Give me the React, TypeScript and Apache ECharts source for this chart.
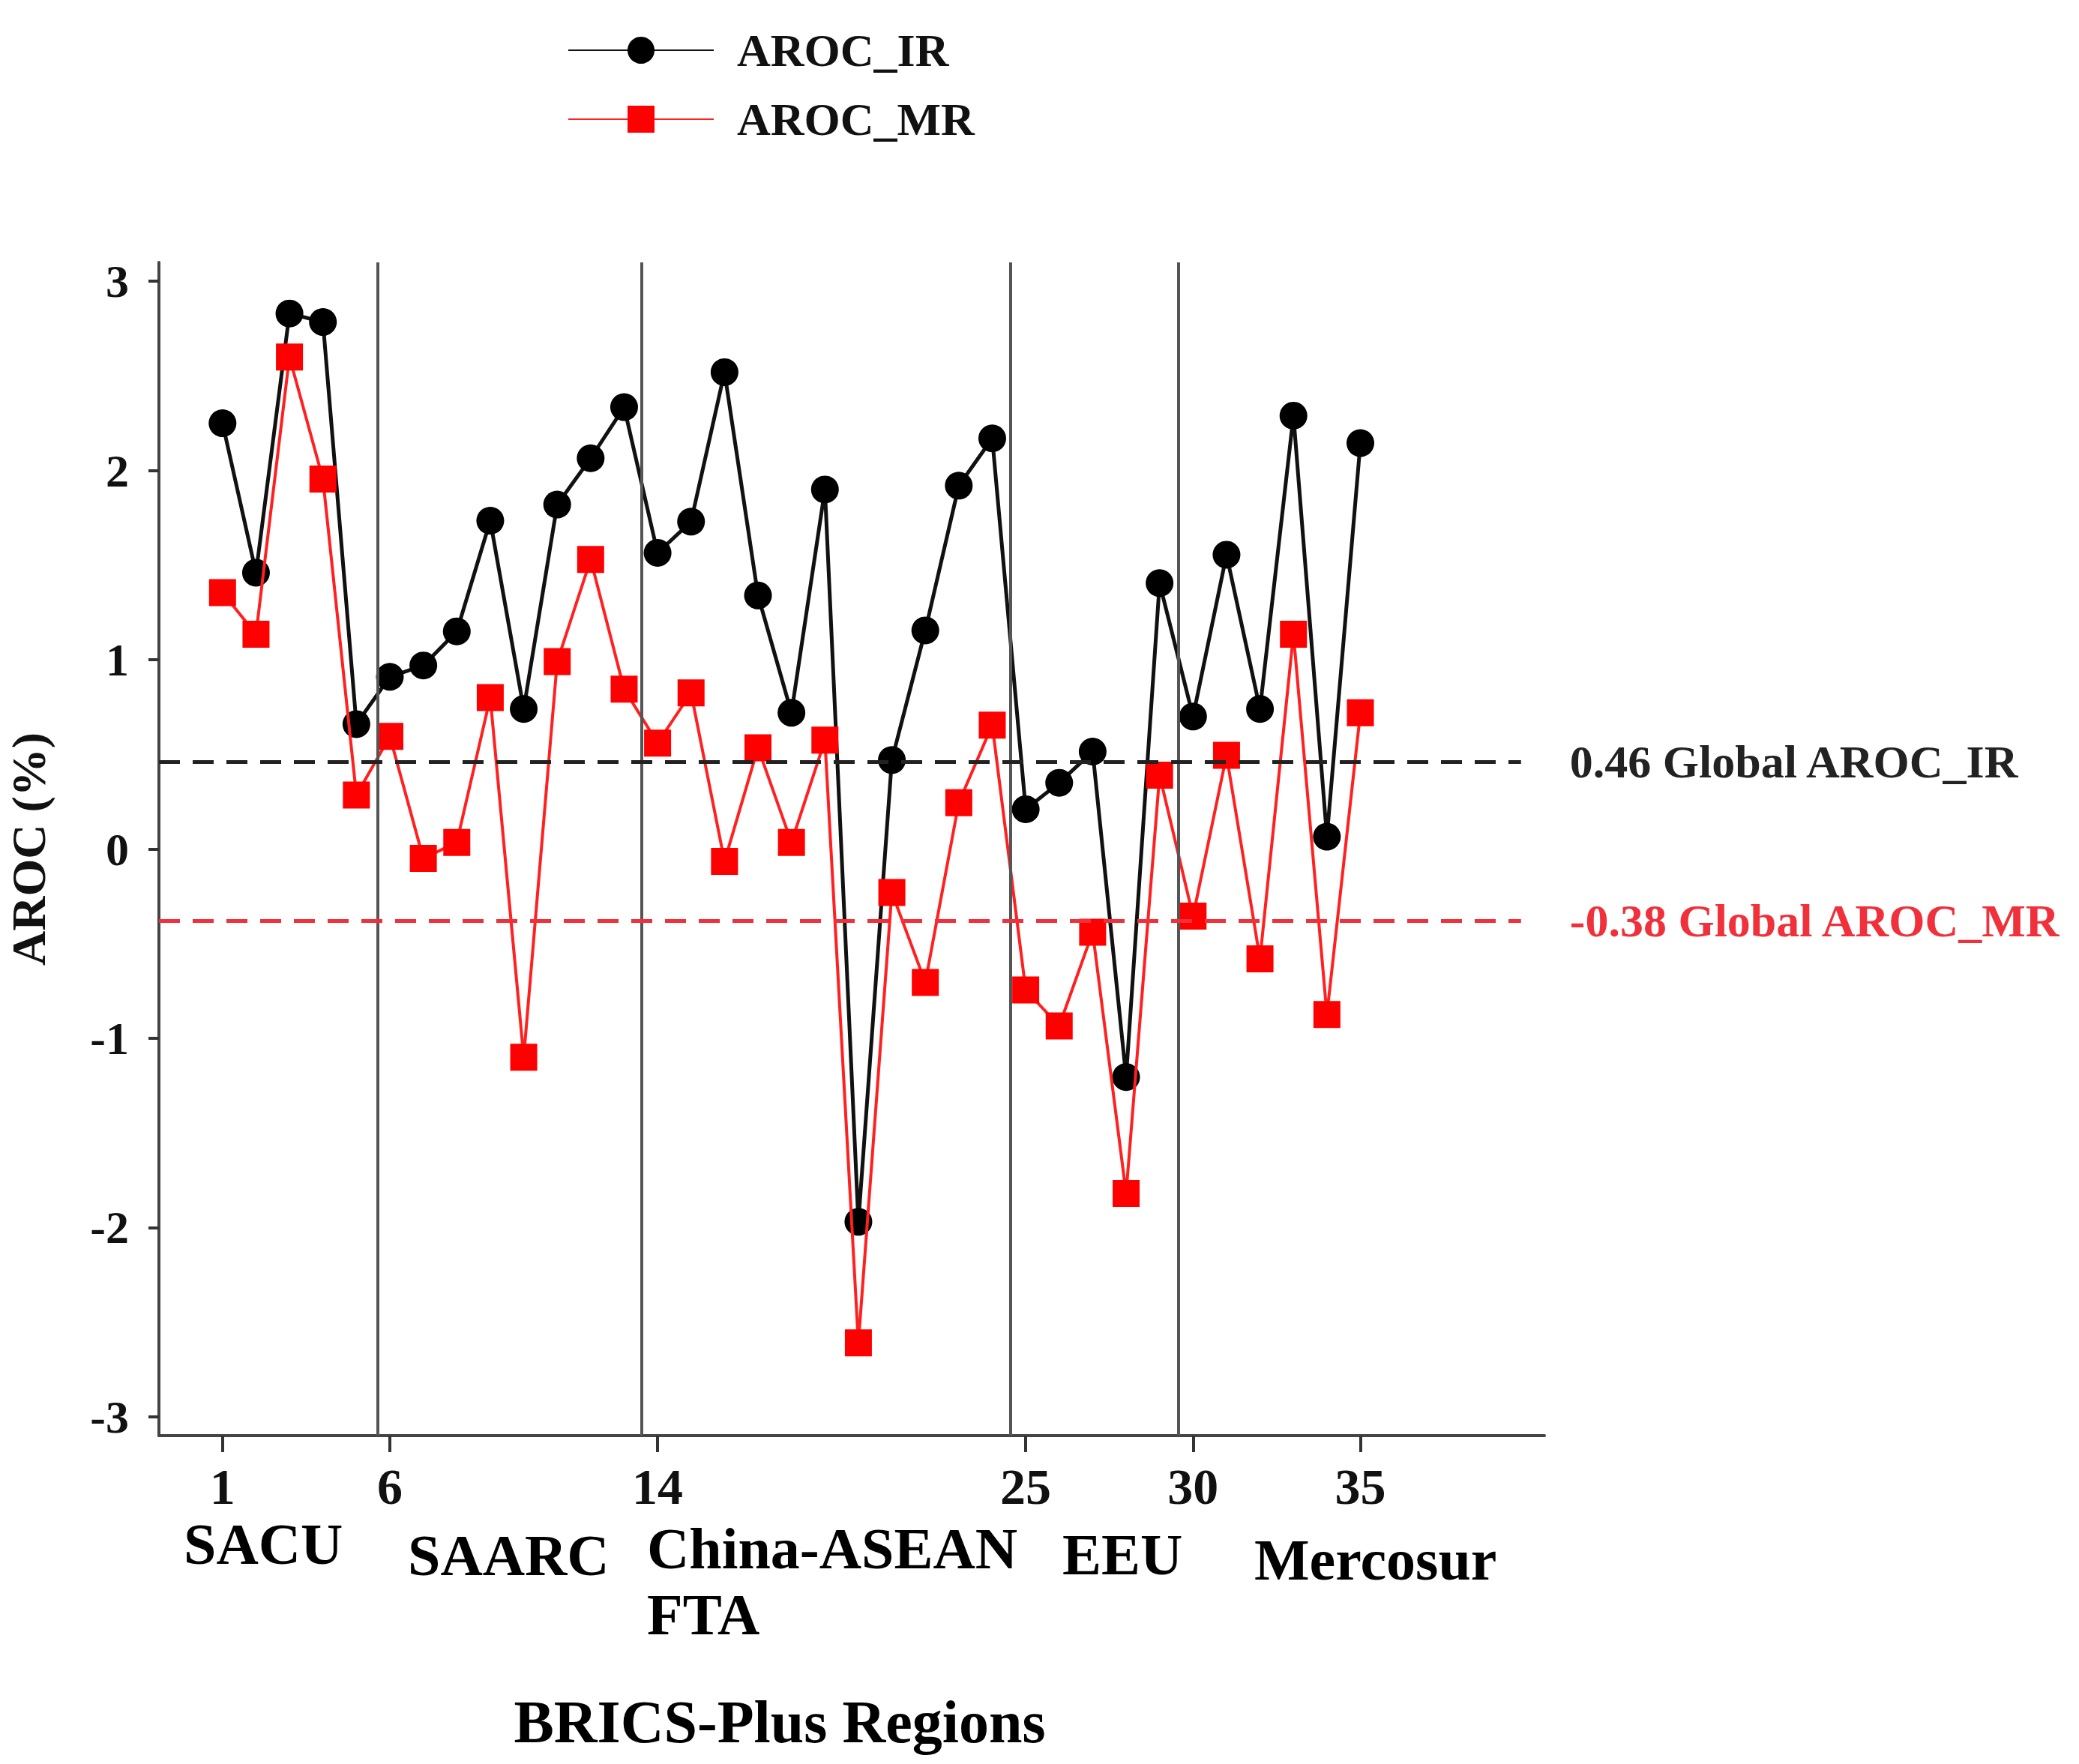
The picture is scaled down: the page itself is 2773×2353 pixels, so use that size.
import React, { useEffect, useRef } from "react";
import * as echarts from "echarts";

// ---- data ----
const pointIndex = [
  1, 2, 3, 4, 5, 6, 7, 8, 9, 10, 11, 12, 13, 14, 15, 16, 17, 18, 19, 20,
  21, 22, 23, 24, 25, 26, 27, 28, 29, 30, 31, 32, 33, 34, 35,
];
const arocIR = [
  2.25, 1.46, 2.83, 2.785, 0.66, 0.91, 0.97, 1.15, 1.735, 0.74, 1.82, 2.065,
  2.335, 1.565, 1.73, 2.52, 1.34, 0.72, 1.9, -1.97, 0.47, 1.155, 1.92, 2.17,
  0.21, 0.35, 0.515, -1.205, 1.405, 0.7, 1.555, 0.74, 2.29, 0.065, 2.145,
];
const arocMR = [
  1.355, 1.135, 2.6, 1.955, 0.285, 0.595, -0.05, 0.035, 0.8, -1.1, 0.99, 1.53,
  0.845, 0.56, 0.825, -0.065, 0.535, 0.035, 0.575, -2.61, -0.23, -0.705, 0.245,
  0.655, -0.745, -0.935, -0.44, -1.82, 0.39, -0.355, 0.495, -0.58, 1.135,
  -0.875, 0.72,
];
const xTickValues = [1, 6, 14, 25, 30, 35];
const yTickValues = [-3, -2, -1, 0, 1, 2, 3];
const regionBreaks = [5.63, 13.53, 24.55, 29.56];
const regionNames = ["SACU", "SAARC", "China-ASEAN\nFTA", "EEU", "Mercosur"];
const globalIR = 0.46;
const globalMR = -0.38;
const seriesNames = ["AROC_IR", "AROC_MR"];

// ---- layout (not data) ----
const FONT = "Liberation Serif";
const X_MIN = -0.9;
const X_MAX = 40.5;
const REF_END = 39.8;
const regionLabelPos = [
  [245, 2059],
  [544, 2074],
  [863, 2109],
  [1417, 2073],
  [1673, 2080],
];

export default function App() {
  const ref = useRef<HTMLDivElement>(null);

  useEffect(() => {
    if (!ref.current) return;
    const chart = echarts.init(ref.current, null, { renderer: "svg" });

    const irData = pointIndex.map((x, i) => [x, arocIR[i]]);
    const mrData = pointIndex.map((x, i) => [x, arocMR[i]]);

    const textBase = {
      fontFamily: FONT,
      fontWeight: "bold" as const,
      color: "#111",
    };

    const option: any = {
      animation: false,
      backgroundColor: "#ffffff",
      grid: {
        left: 212,
        top: 350,
        width: 1848,
        height: 1565,
        containLabel: false,
        outerBoundsMode: "none",
      },
      legend: {
        data: seriesNames,
        orient: "vertical",
        left: 752,
        top: 31,
        itemWidth: 194,
        itemHeight: 45,
        itemGap: 30,
        selectedMode: false,
        textStyle: {
          ...textBase,
          fontSize: 62,
          lineHeight: 62,
          padding: [0, 0, 0, 26],
        },
      },
      xAxis: {
        type: "value",
        min: X_MIN,
        max: X_MAX,
        splitLine: { show: false },
        axisLine: { show: true, onZero: false, lineStyle: { color: "#444", width: 4 } },
        axisTick: {
          show: true,
          customValues: xTickValues,
          length: 22,
          lineStyle: { color: "#333", width: 4 },
        },
        axisLabel: {
          show: true,
          customValues: xTickValues,
          margin: 34,
          fontSize: 68,
          lineHeight: 68,
          ...textBase,
        },
      },
      yAxis: {
        type: "value",
        min: -3.1,
        max: 3.1,
        name: "AROC (%)",
        nameLocation: "middle",
        nameRotate: 90,
        nameGap: 142,
        nameTextStyle: { ...textBase, fontSize: 64, lineHeight: 64 },
        splitLine: { show: false },
        axisLine: { show: true, onZero: false, lineStyle: { color: "#444", width: 4 } },
        axisTick: {
          show: true,
          customValues: yTickValues,
          length: 14,
          lineStyle: { color: "#333", width: 4 },
        },
        axisLabel: {
          show: true,
          customValues: yTickValues,
          margin: 40,
          fontSize: 62,
          ...textBase,
        },
      },
      series: [
        {
          name: seriesNames[0],
          type: "line",
          data: irData,
          symbol: "circle",
          symbolSize: 37,
          itemStyle: { color: "#000" },
          lineStyle: { color: "#111", width: 5 },
          z: 3,
          markLine: {
            silent: true,
            symbol: ["none", "none"],
            animation: false,
            data: [
              ...regionBreaks.map((x) => ({
                xAxis: x,
                lineStyle: { type: "solid", color: "#555", width: 4 },
                label: { show: false },
              })),
              [
                {
                  coord: [X_MIN, globalIR],
                  lineStyle: { type: [28, 17], color: "#222", width: 5 },
                  label: {
                    show: true,
                    position: "end",
                    distance: 65,
                    formatter: `${globalIR} Global AROC_IR`,
                    fontSize: 62,
                    ...textBase,
                    color: "#222",
                  },
                },
                { coord: [REF_END, globalIR] },
              ],
            ],
          },
        },
        {
          name: seriesNames[1],
          type: "line",
          data: mrData,
          symbol: "rect",
          symbolSize: 36,
          itemStyle: { color: "#ff0000" },
          lineStyle: { color: "#ff2020", width: 4 },
          z: 4,
          markLine: {
            silent: true,
            symbol: ["none", "none"],
            animation: false,
            data: [
              [
                {
                  coord: [X_MIN, globalMR],
                  lineStyle: { type: [28, 17], color: "#f0303a", width: 5 },
                  label: {
                    show: true,
                    position: "end",
                    distance: 65,
                    formatter: `${globalMR} Global AROC_MR`,
                    fontSize: 62,
                    ...textBase,
                    color: "#f0303a",
                  },
                },
                { coord: [REF_END, globalMR] },
              ],
            ],
          },
        },
      ],
      graphic: [
        ...regionNames.map((name, i) => ({
          type: "text",
          x: regionLabelPos[i][0],
          y: regionLabelPos[i][1],
          silent: true,
          style: {
            text: name,
            fontFamily: FONT,
            fontWeight: "bold",
            fontSize: 78,
            lineHeight: name.indexOf("\n") >= 0 ? 88 : 78,
            fill: "#000",
            align: "left",
            verticalAlign: "middle",
          },
        })),
        {
          type: "text",
          x: 1040,
          y: 2297,
          silent: true,
          style: {
            text: "BRICS-Plus Regions",
            fontFamily: FONT,
            fontWeight: "bold",
            fontSize: 80,
            fill: "#000",
            align: "center",
            verticalAlign: "middle",
          },
        },
      ],
    };

    chart.setOption(option);
    return () => {
      chart.dispose();
    };
  }, []);

  return (
    <div
      ref={ref}
      style={{ position: "fixed", left: 0, top: 0, width: 2773, height: 2353, background: "#fff" }}
    />
  );
}
